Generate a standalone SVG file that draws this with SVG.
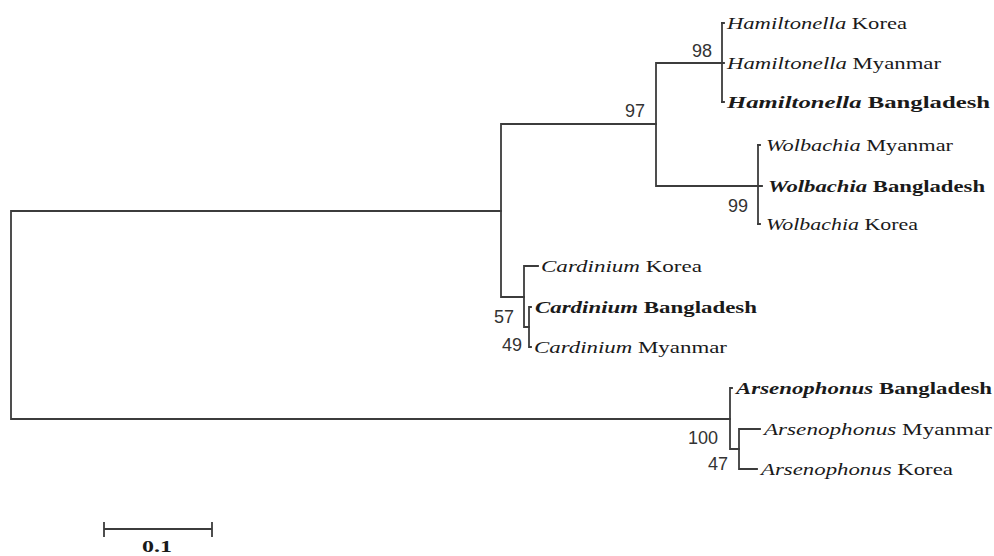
<svg xmlns="http://www.w3.org/2000/svg" width="994" height="556" viewBox="0 0 994 556">
  <style>
    .br { fill: none; stroke: #3c3c3c; stroke-width: 1.8; stroke-linecap: square; }
    .tx { font-family: "Liberation Serif", "Times New Roman", serif; font-size: 17.5px; fill: #1a1a1a; }
    .gn { font-style: italic; }
    .bd { font-weight: bold; }
    .bs { font-family: "Liberation Sans", Arial, sans-serif; font-size: 18px; fill: #333; }
  </style>
  <rect width="994" height="556" fill="#fff"/>

  <!-- tree branches -->
  <g id="connectors">
    <!-- root -->
    <path class="br" d="M501,211 H11 V419 H730"/>
    <!-- ingroup node -->
    <path class="br" d="M656,124 H501 V297 H524"/>
    <!-- Hamiltonella + Wolbachia node -->
    <path class="br" d="M722,63 H656 V186 H758"/>
    <!-- Hamiltonella clade -->
    <path class="br" d="M722,23 V102"/>
    <path class="br" d="M722,23 H724 M722,102 H724 M722,63 H724"/>
    <!-- Wolbachia clade -->
    <path class="br" d="M758,145 V224"/>
    <path class="br" d="M758,145 H760 M758,224 H760 M758,186 H762"/>
    <!-- Cardinium clade -->
    <path class="br" d="M538,266 H524 V327 H529"/>
    <path class="br" d="M531,307 H529 V347 H531"/>
    <!-- Arsenophonus clade -->
    <path class="br" d="M732,388 H730 V449 H739"/>
    <path class="br" d="M760,429 H739 V469 H757"/>
    <!-- scale bar -->
    <path class="br" d="M104,529 H212 M104,523 V536 M212,523 V536"/>
  </g>

  <!-- taxa -->
  <g id="hamiltonella-korea"><text class="tx" x="727" y="29" textLength="180" lengthAdjust="spacingAndGlyphs"><tspan class="gn">Hamiltonella</tspan> Korea</text></g>
  <g id="hamiltonella-myanmar"><text class="tx" x="727" y="69" textLength="214" lengthAdjust="spacingAndGlyphs"><tspan class="gn">Hamiltonella</tspan> Myanmar</text></g>
  <g id="hamiltonella-bangladesh"><text class="tx bd" x="727" y="108" textLength="263" lengthAdjust="spacingAndGlyphs"><tspan class="gn">Hamiltonella</tspan> Bangladesh</text></g>

  <g id="wolbachia-myanmar"><text class="tx" x="766" y="151" textLength="187" lengthAdjust="spacingAndGlyphs"><tspan class="gn">Wolbachia</tspan> Myanmar</text></g>
  <g id="wolbachia-bangladesh"><text class="tx bd" x="768" y="192" textLength="217" lengthAdjust="spacingAndGlyphs"><tspan class="gn">Wolbachia</tspan> Bangladesh</text></g>
  <g id="wolbachia-korea"><text class="tx" x="766" y="230" textLength="152" lengthAdjust="spacingAndGlyphs"><tspan class="gn">Wolbachia</tspan> Korea</text></g>

  <g id="cardinium-korea"><text class="tx" x="541" y="272" textLength="161" lengthAdjust="spacingAndGlyphs"><tspan class="gn">Cardinium</tspan> Korea</text></g>
  <g id="cardinium-bangladesh"><text class="tx bd" x="535" y="313" textLength="222" lengthAdjust="spacingAndGlyphs"><tspan class="gn">Cardinium</tspan> Bangladesh</text></g>
  <g id="cardinium-myanmar"><text class="tx" x="534" y="353" textLength="193" lengthAdjust="spacingAndGlyphs"><tspan class="gn">Cardinium</tspan> Myanmar</text></g>

  <g id="arsenophonus-bangladesh"><text class="tx bd" x="736" y="394" textLength="256" lengthAdjust="spacingAndGlyphs"><tspan class="gn">Arsenophonus</tspan> Bangladesh</text></g>
  <g id="arsenophonus-myanmar"><text class="tx" x="764" y="435" textLength="228" lengthAdjust="spacingAndGlyphs"><tspan class="gn">Arsenophonus</tspan> Myanmar</text></g>
  <g id="arsenophonus-korea"><text class="tx" x="761" y="475" textLength="192" lengthAdjust="spacingAndGlyphs"><tspan class="gn">Arsenophonus</tspan> Korea</text></g>

  <!-- bootstrap values -->
  <g id="bootstrap">
    <text class="bs" x="712" y="57" text-anchor="end">98</text>
    <text class="bs" x="645" y="117" text-anchor="end">97</text>
    <text class="bs" x="748" y="212" text-anchor="end">99</text>
    <text class="bs" x="514" y="323" text-anchor="end">57</text>
    <text class="bs" x="522" y="351" text-anchor="end">49</text>
    <text class="bs" x="718" y="444" text-anchor="end">100</text>
    <text class="bs" x="728" y="470" text-anchor="end">47</text>
  </g>

  <!-- scale label -->
  <g id="scale"><text class="tx bd" x="157" y="552" text-anchor="middle" font-size="17" textLength="30" lengthAdjust="spacingAndGlyphs">0.1</text></g>
</svg>
